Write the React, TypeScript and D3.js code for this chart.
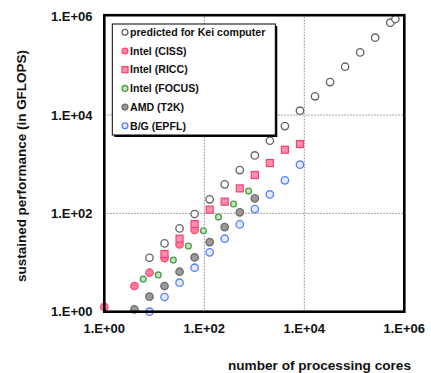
import * as d3 from "d3";

const W = 431;
const H = 373;
const FONT = "'Liberation Sans', Arial, sans-serif";

// data (cores, GFLOPS)
const keiCores = [8, 16, 32, 64, 128, 256, 512, 1024, 2048, 4096, 8192, 16384, 32768, 65536, 131072, 262144, 524288, 663552];
const keiPerf = [12.5, 24.5, 49.5, 97, 193, 389, 760, 1510, 3000, 5970, 12250, 24000, 46900, 96000, 188000, 374000, 755000, 897000];

const cissCores = [1, 4, 8, 16, 32, 64];
const cissPerf = [1.25, 3.33, 6.2, 12.3, 23.5, 46];

const riccCores = [16, 32, 64, 128, 256, 512, 1024, 2048, 4096, 8192];
const riccPerf = [14.9, 30.5, 60.7, 119, 173, 322, 602, 1056, 1972, 2570];

const focusCores = [6, 12, 24, 48, 96, 192, 384, 768];
const focusPerf = [4.6, 5.6, 11.2, 21.7, 44.4, 84, 155, 284];

const amdCores = [4, 8, 16, 32, 64, 128, 256, 512, 1024];
const amdPerf = [1.11, 2.02, 3.33, 6.5, 12.7, 26.1, 52.7, 105, 202];

const bgCores = [8, 16, 32, 64, 128, 256, 512, 1024, 2048, 4096, 8192];
const bgPerf = [1.0, 1.99, 3.89, 7.85, 16.1, 30.5, 59.7, 122, 243, 469, 977];

const tickValues = [1, 1e2, 1e4, 1e6];
const tickLabels = ["1.E+00", "1.E+02", "1.E+04", "1.E+06"];
const gridValues = [1e2, 1e4];

type Series = {
  name: string;
  cores: number[];
  perf: number[];
  shape: "circle" | "square";
  r: number;
  fill: string;
  stroke: string;
};

const series: Series[] = [
  { name: "predicted for Kei computer", cores: keiCores, perf: keiPerf, shape: "circle", r: 3.7, fill: "#ffffff", stroke: "#666666" },
  { name: "Intel (CISS)", cores: cissCores, perf: cissPerf, shape: "circle", r: 3.7, fill: "#ff7f9c", stroke: "#ff4d78" },
  { name: "Intel (RICC)", cores: riccCores, perf: riccPerf, shape: "square", r: 3.5, fill: "#ff8fb0", stroke: "#f0406e" },
  { name: "Intel (FOCUS)", cores: focusCores, perf: focusPerf, shape: "circle", r: 2.9, fill: "#c4e6bc", stroke: "#4c9e4c" },
  { name: "AMD (T2K)", cores: amdCores, perf: amdPerf, shape: "circle", r: 3.7, fill: "#9a9a9a", stroke: "#6e6e6e" },
  { name: "B/G (EPFL)", cores: bgCores, perf: bgPerf, shape: "circle", r: 3.7, fill: "#e4ebff", stroke: "#5a80ff" },
];

const PLOT = { left: 104.3, right: 404.3, top: 16.7, bottom: 311.7 };

export default function App() {
  const x = d3.scaleLog().domain([1, 1e6]).range([PLOT.left, PLOT.right]);
  const y = d3.scaleLog().domain([1, 1e6]).range([PLOT.bottom, PLOT.top]);

  const marker = (s: Series, cx: number, cy: number, r: number, key: string | number) =>
    s.shape === "square" ? (
      <rect key={key} x={cx - r} y={cy - r} width={r * 2} height={r * 2} fill={s.fill} stroke={s.stroke} strokeWidth={1.2} />
    ) : (
      <circle key={key} cx={cx} cy={cy} r={r} fill={s.fill} stroke={s.stroke} strokeWidth={1.35} />
    );

  const leg = { x: 112.3, y: 24, w: 163, h: 111 };

  return (
    <svg width={W} height={H} style={{ position: "absolute", left: 0, top: 0, background: "#fff" }} fontFamily={FONT}>
      {/* grid */}
      {gridValues.map((v) => (
        <g key={v}>
          <line x1={x(v)} x2={x(v)} y1={PLOT.top} y2={PLOT.bottom} stroke="#8a8a8a" strokeWidth={1} strokeDasharray="1.5,1.5" />
          <line x1={PLOT.left} x2={PLOT.right} y1={y(v)} y2={y(v)} stroke="#8a8a8a" strokeWidth={1} strokeDasharray="1.5,1.5" />
        </g>
      ))}

      {/* points */}
      {series.map((s) => (
        <g key={s.name}>
          {s.cores.map((c, i) => marker(s, x(c), y(s.perf[i]), s.r, i))}
        </g>
      ))}

      {/* frame */}
      <rect x={PLOT.left} y={PLOT.top - 1.5} width={PLOT.right - PLOT.left} height={PLOT.bottom - PLOT.top + 1.5} fill="none" stroke="#000" strokeWidth={2.6} />

      {/* tick labels */}
      {tickValues.map((v, i) => (
        <text key={"y" + v} x={92.5} y={y(v)} dy="0.35em" textAnchor="end" fontSize={13} fontWeight="bold" fill="#111">
          {tickLabels[i]}
        </text>
      ))}
      {tickValues.map((v, i) => (
        <text key={"x" + v} x={x(v)} y={328} dy="0.35em" textAnchor="middle" fontSize={13} fontWeight="bold" fill="#111">
          {tickLabels[i]}
        </text>
      ))}

      {/* axis titles */}
      <text x={319.5} y={365} dy="0.35em" textAnchor="middle" fontSize={13} fontWeight="bold" fill="#111" textLength={183} lengthAdjust="spacingAndGlyphs">
        number of processing cores
      </text>
      <text transform="translate(21.7,166) rotate(-90)" dy="0.35em" textAnchor="middle" fontSize={13} fontWeight="bold" fill="#111" textLength={232} lengthAdjust="spacingAndGlyphs">
        sustained performance (in GFLOPS)
      </text>

      {/* legend */}
      <rect x={leg.x + 2} y={leg.y + 2} width={leg.w} height={leg.h} fill="#000" />
      <rect x={leg.x} y={leg.y} width={leg.w} height={leg.h} fill="#fff" stroke="#000" strokeWidth={1} />
      {series.map((s, i) => {
        const cy = 32.3 + i * 18.7;
        return (
          <g key={s.name}>
            {marker(s, 125, cy, s.shape === "square" ? 3 : 2.9, "m")}
            <text x={130} y={cy} dy="0.35em" fontSize={10.6} fontWeight="bold" fill="#111">
              {s.name}
            </text>
          </g>
        );
      })}
    </svg>
  );
}
